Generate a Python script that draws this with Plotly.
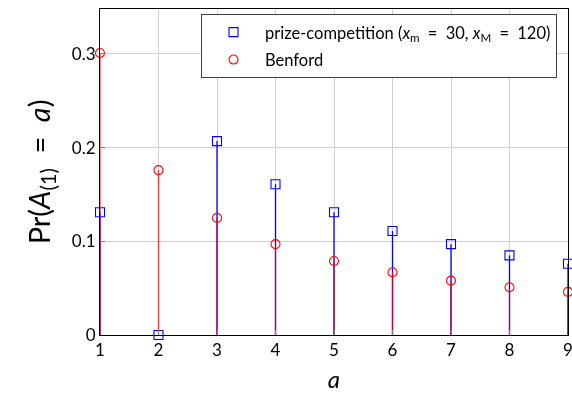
import plotly.graph_objects as go

# First significant digit a = 1..9
digits = [1, 2, 3, 4, 5, 6, 7, 8, 9]
prize_competition = [0.131, 0.0, 0.207, 0.161, 0.131, 0.111, 0.097, 0.085, 0.076]
benford = [0.301, 0.176, 0.125, 0.097, 0.079, 0.067, 0.058, 0.051, 0.046]

y_ticks = [0, 0.1, 0.2, 0.3]
y_tick_labels = ["0", "0.1", "0.2", "0.3"]

BLUE = "#0000ff"
RED = "#ff0000"
FONT = "Lato"
SP = "\u2002"  # wide space around relation signs


def stems(xs, ys):
    """Vertical segments from 0 up to each value, separated by gaps."""
    sx, sy = [], []
    for x, y in zip(xs, ys):
        sx += [x, x, None]
        sy += [0, y, None]
    return sx, sy


fig = go.Figure()

bx, by = stems(digits, prize_competition)
fig.add_trace(go.Scatter(x=bx, y=by, mode="lines", line=dict(color=BLUE, width=1.3),
                         showlegend=False, hoverinfo="skip", cliponaxis=False))
rx, ry = stems(digits, benford)
fig.add_trace(go.Scatter(x=rx, y=ry, mode="lines", line=dict(color=RED, width=1.3),
                         opacity=0.75, showlegend=False, hoverinfo="skip", cliponaxis=False))

fig.add_trace(go.Scatter(
    x=digits, y=prize_competition, mode="markers", cliponaxis=False, legendgroup="p",
    name=f"prize-competition (<i>x</i><sub>m</sub>{SP}={SP}30, <i>x</i><sub>M</sub>{SP}={SP}120)",
    marker=dict(symbol="square-open", size=9, color=BLUE, line=dict(width=1.1)),
))
fig.add_trace(go.Scatter(
    x=digits, y=benford, mode="markers", name="Benford", cliponaxis=False, legendgroup="b",
    marker=dict(symbol="circle-open", size=9, color=RED, line=dict(width=1.1)),
))

axis_common = dict(
    showline=True, linecolor="black", linewidth=1, mirror=True,
    showgrid=True, gridcolor="#d0d0d0", gridwidth=1,
    ticks="inside", ticklen=5, tickcolor="#808080",
    zeroline=False, automargin=False,
    tickfont=dict(family=FONT, size=17, color="black"),
)

fig.update_xaxes(
    range=[1, 9], tickvals=digits, ticktext=[str(d) for d in digits],
    ticklabeloverflow="allow",
    title=dict(text="<i>a</i>", font=dict(family=FONT, size=24, color="black"), standoff=12),
    **axis_common,
)
fig.update_yaxes(
    range=[0, 0.348], tickvals=y_ticks, ticktext=y_tick_labels,
    title=dict(text=f"Pr(<i>A</i><sub>(1)</sub>{SP}={SP}<i>a</i>)",
               font=dict(family=FONT, size=29, color="black"), standoff=12),
    **axis_common,
)

fig.update_layout(
    width=572, height=393,
    margin=dict(l=100, r=4, t=9, b=58, autoexpand=False),
    plot_bgcolor="white", paper_bgcolor="white",
    font=dict(family=FONT, color="black"),
    legend=dict(
        x=0.9765, y=0.985, xanchor="right", yanchor="top",
        bordercolor="#404040", borderwidth=1, bgcolor="white",
        font=dict(family=FONT, size=16.5, color="black"),
        itemwidth=53, tracegroupgap=3,
    ),
)

fig.write_html("out.html")
